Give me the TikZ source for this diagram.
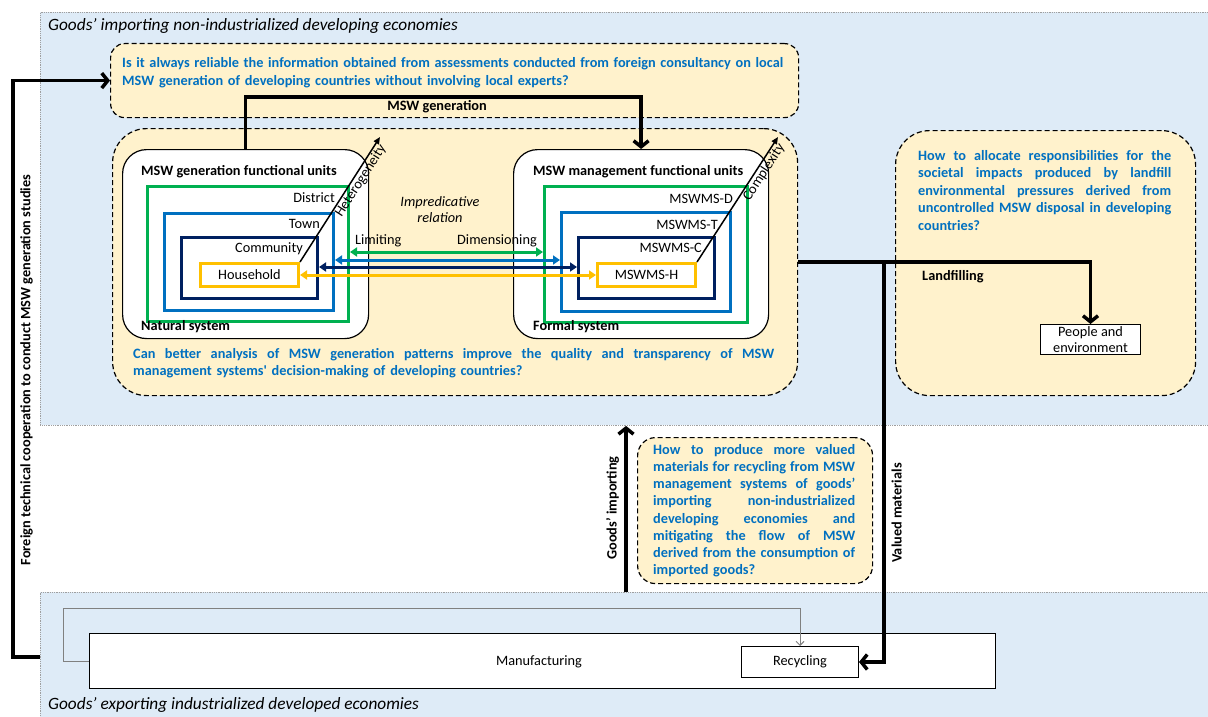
\documentclass[tikz,border=0pt]{standalone}
\usepackage{fontspec}
\setmainfont{Carlito}
\usetikzlibrary{arrows.meta}

\definecolor{regionblue}{RGB}{222,235,247}
\definecolor{qfill}{RGB}{255,242,204}
\definecolor{qblue}{RGB}{0,112,192}
\definecolor{ugreen}{RGB}{0,176,80}
\definecolor{ublue}{RGB}{0,112,192}
\definecolor{unavy}{RGB}{0,32,96}
\definecolor{ugold}{RGB}{255,192,0}

% one justified line of given width / one ragged last line of a question paragraph
\newcommand\jline[2]{\hbox to #1{\spaceskip=0.22em plus 1fil\relax\strut#2}}
\newcommand\lline[1]{\strut#1\par}
\newcommand\bodyfont{\fontsize{14.3}{17}\selectfont}

\tikzset{
  region/.style={draw=gray!75, fill=regionblue, dash pattern=on 0.9pt off 0.9pt,
    line width=0.9pt, inner sep=0pt, anchor=north west},
  qbox/.style={draw=black, fill=qfill, dash pattern=on 5pt off 3pt,
    line width=1.2pt, inner sep=0pt, anchor=north west},
  sysbox/.style={draw=black, fill=white, line width=1.2pt, rounded corners=24pt,
    inner sep=0pt, anchor=north west},
  unitbox/.style={draw=#1, line width=3pt, inner sep=0pt, anchor=north west},
  lbl/.style={inner sep=0pt, font=\bodyfont, text height=10pt, text depth=3pt},
  blbl/.style={lbl, font=\bodyfont\bfseries},
  ttl/.style={lbl, anchor=west, font=\fontsize{17.3}{20}\selectfont\itshape},
  qtext/.style={inner sep=0pt, anchor=north west, text=qblue,
    font=\fontsize{14.3}{#1}\selectfont\bfseries},
  bigarrow/.style={line width=3.5pt, -{Straight Barb[length=6pt,width=15pt]}},
  dbl/.style={draw=#1, line width=3pt,
    {Triangle[length=7pt,width=9pt]}-{Triangle[length=7pt,width=9pt]}},
  diag/.style={line width=1.5pt, -{Triangle[length=7pt,width=6pt]}},
  grayflow/.style={draw=gray, line width=0.9pt, -{Straight Barb[length=4pt,width=8pt]}},
  plainbox/.style={draw=black, fill=white, line width=1pt, inner sep=0pt, anchor=north west}
}

\begin{document}
\begin{tikzpicture}[x=1pt,y=-1pt]
\useasboundingbox (0,0) rectangle (1208,717);
\clip (0,0) rectangle (1208,717);

% economic regions
\node[region, minimum width=1180pt, minimum height=413pt] (topreg) at (40,12) {};
\node[region, minimum width=1180pt, minimum height=140pt] (botreg) at (40,592) {};
\node[ttl] (ttop) at (48,27) {Goods’ importing non-industrialized developing economies};
\node[ttl] (tbot) at (48,706) {Goods’ exporting industrialized developed economies};

% question boxes
\node[qbox, rounded corners=14pt, minimum width=688pt, minimum height=74pt] (q1) at (110,43) {};
\node[qbox, rounded corners=34pt, minimum width=685pt, minimum height=267pt] (arena) at (112,128) {};
\node[qbox, rounded corners=34pt, minimum width=300pt, minimum height=265pt] (q3) at (895,130) {};
\node[qbox, rounded corners=18pt, minimum width=235pt, minimum height=146pt] (q4) at (637,437) {};

\node[qtext=18, text width=661pt] (q1text) at (122,54.4) {%
  \jline{661pt}{Is it always reliable the information obtained from assessments conducted from foreign consultancy on local}
  \lline{MSW generation of developing countries without involving local experts?}};
\node[qtext=17, text width=641pt] (q2text) at (133,346.1) {%
  \jline{641pt}{Can better analysis of MSW generation patterns improve the quality and transparency of MSW}
  \lline{management systems\textquotesingle\ decision-making of developing countries?}};
\node[qtext=17.5, text width=253pt] (q3text) at (918,147.75) {%
  \jline{253pt}{How to allocate responsibilities for the}
  \jline{253pt}{societal impacts produced by landfill}
  \jline{253pt}{environmental pressures derived from}
  \jline{253pt}{uncontrolled MSW disposal in developing}
  \lline{countries?}};
\node[qtext=17.2, text width=202pt] (q4text) at (653,442) {%
  \jline{202pt}{How to produce more valued}
  \jline{202pt}{materials for recycling from MSW}
  \jline{202pt}{management systems of goods’}
  \jline{202pt}{importing non-industrialized}
  \jline{202pt}{developing economies and}
  \jline{202pt}{mitigating the flow of MSW}
  \jline{202pt}{derived from the consumption of}
  \lline{imported goods?}};

% natural system: generation units
\node[sysbox, minimum width=246pt, minimum height=189pt] (nat) at (122,149) {};
\node[unitbox=ugreen, minimum width=201pt, minimum height=135pt] (gd) at (146,185) {};
\node[unitbox=ublue, minimum width=169pt, minimum height=97pt] (bt) at (163,212) {};
\node[unitbox=unavy, minimum width=136pt, minimum height=61pt] (nc) at (180,236) {};
\node[unitbox=ugold, minimum width=98pt, minimum height=23pt, font=\bodyfont] (hh) at (199,262) {Household};
\node[blbl, anchor=west] (natttl) at (141,172) {MSW generation functional units};
\node[blbl, anchor=west] (natsys) at (141,327) {Natural system};
\node[lbl, anchor=east] (ldist) at (335,199) {District};
\node[lbl, anchor=east] (ltown) at (320,225) {Town};
\node[lbl, anchor=east] (lcomm) at (303,249) {Community};

% formal system: management units
\node[sysbox, minimum width=255pt, minimum height=189pt] (form) at (513,149) {};
\node[unitbox=ugreen, minimum width=203pt, minimum height=136pt] (gm) at (543,185) {};
\node[unitbox=ublue, minimum width=169pt, minimum height=99pt] (bm) at (560,211) {};
\node[unitbox=unavy, minimum width=136pt, minimum height=61pt] (nm) at (577,236) {};
\node[unitbox=ugold, minimum width=98pt, minimum height=23pt, font=\bodyfont] (mh) at (596,262) {MSWMS-H};
\node[blbl, anchor=west] (formttl) at (533,172) {MSW management functional units};
\node[blbl, anchor=west] (formsys) at (533,327) {Formal system};
\node[lbl, anchor=east] (mdist) at (733,200) {MSWMS-D};
\node[lbl, anchor=east] (mtown) at (718,226) {MSWMS-T};
\node[lbl, anchor=east] (mcomm) at (702,249) {MSWMS-C};

% impredicative relation between the two systems
\node[inner sep=0pt, align=center, font=\fontsize{14.3}{16}\selectfont\itshape] (impr) at (440,210) {Impredicative\\relation};
\node[lbl, anchor=west] (limit) at (355,241) {Limiting};
\node[lbl, anchor=west] (dimen) at (457,241) {Dimensioning};
\coordinate (yg) at (0,252);
\coordinate (yb) at (0,260);
\coordinate (yn) at (0,267);
\draw[dbl=ugreen] (gd.east |- yg) -- (gm.west |- yg);
\draw[dbl=ublue] (bt.east |- yb) -- (bm.west |- yb);
\draw[dbl=unavy] (nc.east |- yn) -- (nm.west |- yn);
\draw[dbl=ugold] (hh.east) -- (mh.west);

% heterogeneity and complexity axes
\coordinate (hetend) at (380,137);
\coordinate (cxend) at (778,137);
\draw[diag] (hh.north east) -- (hetend) node[pos=0.68, sloped, below=0.5pt, lbl] (hetlbl) {Heterogeneity};
\draw[diag] (mh.north east) -- (cxend) node[pos=0.75, sloped, below=0.5pt, lbl] (cxlbl) {Complexity};

% MSW generation flow
\draw[bigarrow] (nat.north) -- ++(0,-52) -| (form.north);
\node[blbl] (mswgen) at (437,107) {MSW generation};

% landfilling and valued materials
\node[plainbox, minimum width=100pt, minimum height=30pt, align=center,
  font=\fontsize{14.3}{16}\selectfont] (pe) at (1040,324) {People and\\environment};
\coordinate (lf) at (0,262);
\draw[bigarrow] (arena.east |- lf) -| (pe.north);
\node[blbl, anchor=west] (lflbl) at (922,277) {Landfilling};

\node[plainbox, minimum width=906pt, minimum height=55pt] (manu) at (89,633) {};
\node[lbl] (manulbl) at (539,662) {Manufacturing};
\node[plainbox, minimum width=117pt, minimum height=31pt, font=\bodyfont] (rec) at (741,646) {Recycling};
\draw[grayflow] (manu.west) -| (63,608) -| (rec.north);

\coordinate (vsplit) at (884,262);
\draw[bigarrow] (vsplit) |- (rec.east);
\node[blbl, rotate=90] (vmlbl) at (898,513) {Valued materials};

% goods' importing
\coordinate (gix) at (626,0);
\draw[bigarrow] (botreg.north -| gix) -- (topreg.south -| gix);
\node[blbl, rotate=90] (gilbl) at (613,508) {Goods’ importing};

% foreign technical cooperation
\coordinate (fcb) at (0,657);
\draw[bigarrow] (botreg.west |- fcb) -- (13,657) |- (q1.west);
\node[blbl, rotate=90] (fclbl) at (27,370) {Foreign technical cooperation to conduct MSW generation studies};
\end{tikzpicture}
\end{document}
